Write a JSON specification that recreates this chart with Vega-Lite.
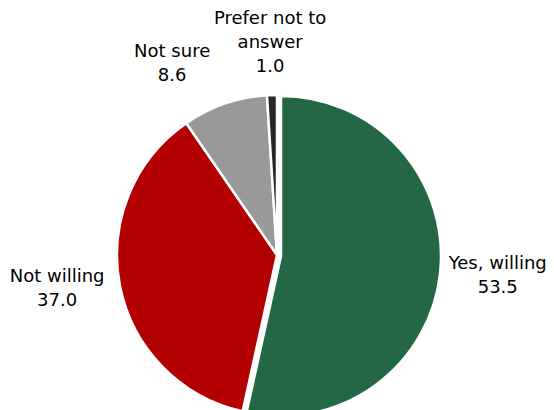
{
  "$schema": "https://vega.github.io/schema/vega-lite/v6.json",
  "width": 554,
  "height": 410,
  "autosize": "none",
  "padding": {"left": 0, "top": 50, "right": 0, "bottom": 0},
  "background": "white",
  "view": {"stroke": null},
  "data": {"values": [
    {"cat": "Yes, willing", "value": 53.5, "ord": 1, "label": "Yes, willing\n53.5"},
    {"cat": "Not willing", "value": 37.0, "ord": 2, "label": "Not willing\n37.0"},
    {"cat": "Not sure", "value": 8.6, "ord": 3, "label": "Not sure\n8.6"},
    {"cat": "Prefer not to answer", "value": 1.0, "ord": 4, "label": "Prefer not to\nanswer\n1.0"}
  ]},
  "encoding": {
    "theta": {"field": "value", "type": "quantitative", "stack": true},
    "order": {"field": "ord", "type": "quantitative", "sort": "ascending"},
    "color": {
      "field": "cat", "type": "nominal", "legend": null,
      "scale": {
        "domain": ["Yes, willing", "Not willing", "Not sure", "Prefer not to answer"],
        "range": ["#236744", "#b40000", "#999999", "#262626"]
      }
    }
  },
  "layer": [
    {
      "mark": {"type": "arc", "radius": 160, "stroke": "white", "strokeWidth": 2.5},
      "encoding": {
        "fillOpacity": {"condition": {"test": "datum.cat === 'Yes, willing'", "value": 0}, "value": 1},
        "strokeOpacity": {"condition": {"test": "datum.cat === 'Yes, willing'", "value": 0}, "value": 1}
      }
    },
    {
      "transform": [{"filter": "datum.cat === 'Yes, willing'"}],
      "mark": {"type": "arc", "radius": 160, "stroke": "white", "strokeWidth": 2.5, "xOffset": 4, "yOffset": 1}
    },
    {
      "mark": {"type": "text", "radius": 220, "dx": 2, "dy": -15, "font": "DejaVu Sans", "fontSize": 18, "lineBreak": "\n", "lineHeight": 24, "align": "center", "baseline": "middle"},
      "encoding": {"text": {"field": "label"}, "color": {"value": "black"},
        "opacity": {"condition": {"test": "datum.cat === 'Yes, willing'", "value": 1}, "value": 0}}
    },
    {
      "mark": {"type": "text", "radius": 220, "dx": -4, "dy": -20, "font": "DejaVu Sans", "fontSize": 18, "lineBreak": "\n", "lineHeight": 24, "align": "center", "baseline": "middle"},
      "encoding": {"text": {"field": "label"}, "color": {"value": "black"},
        "opacity": {"condition": {"test": "datum.cat === 'Not willing'", "value": 1}, "value": 0}}
    },
    {
      "mark": {"type": "text", "radius": 220, "dx": -33, "dy": 5, "font": "DejaVu Sans", "fontSize": 18, "lineBreak": "\n", "lineHeight": 24, "align": "center", "baseline": "middle"},
      "encoding": {"text": {"field": "label"}, "color": {"value": "black"},
        "opacity": {"condition": {"test": "datum.cat === 'Not sure'", "value": 1}, "value": 0}}
    },
    {
      "mark": {"type": "text", "radius": 220, "dx": 0, "dy": -16, "font": "DejaVu Sans", "fontSize": 18, "lineBreak": "\n", "lineHeight": 24, "align": "center", "baseline": "middle"},
      "encoding": {"text": {"field": "label"}, "color": {"value": "black"},
        "opacity": {"condition": {"test": "datum.cat === 'Prefer not to answer'", "value": 1}, "value": 0}}
    }
  ]
}
